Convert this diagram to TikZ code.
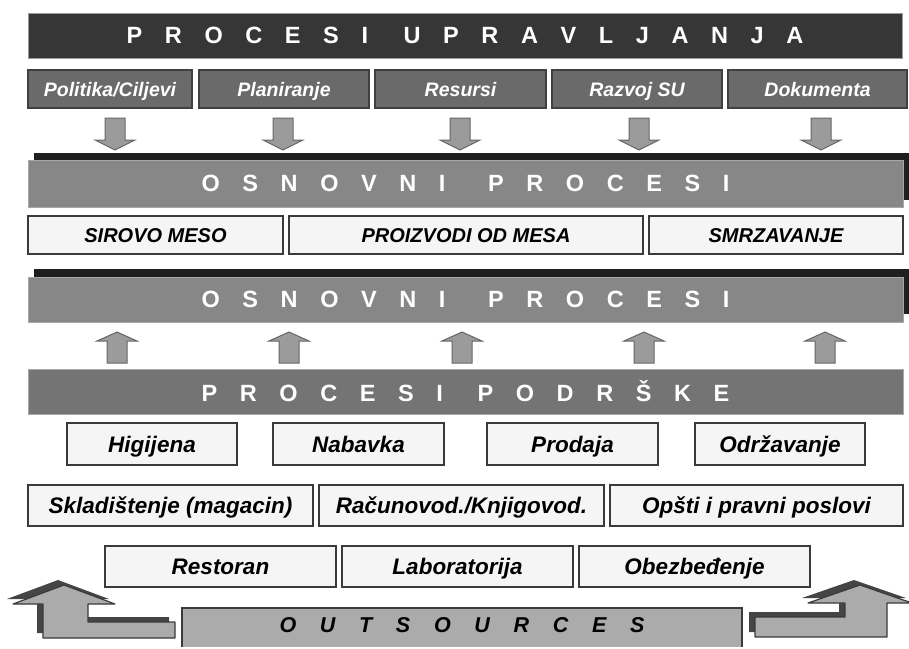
\documentclass[tikz,border=0pt]{standalone}
\usepackage{fontspec}
\setmainfont{Liberation Sans}
\usetikzlibrary{positioning, shadows}

\definecolor{bannerdark}{HTML}{363636}
\definecolor{banneredge}{HTML}{9A9A9A}
\definecolor{mgmtgray}{HTML}{6A6A6A}
\definecolor{mgmtedge}{HTML}{404040}
\definecolor{osngray}{HTML}{878787}
\definecolor{podrgray}{HTML}{747474}
\definecolor{bandedge}{HTML}{A8A8A8}
\definecolor{shadowblack}{HTML}{1F1F1F}
\definecolor{boxwhite}{HTML}{F5F5F5}
\definecolor{boxedge}{HTML}{3A3A3A}
\definecolor{arrowgray}{HTML}{9B9B9B}
\definecolor{arrowedge}{HTML}{666666}
\definecolor{outgray}{HTML}{ABABAB}
\definecolor{bentshadow}{HTML}{454545}

\newcommand{\bandfont}{\fontsize{23.5}{28}\selectfont\bfseries\spaceskip=22.6pt\relax}
\newcommand{\outfont}{\fontsize{21.5}{26}\selectfont\bfseries\itshape\spaceskip=23.7pt\relax}

\tikzset{
  band/.style={rectangle, outer sep=0pt, draw=bandedge, line width=0.8pt,
    minimum width=875pt, minimum height=45pt, text=white, font=\bandfont},
  osnband/.style={band, fill=osngray,
    general shadow={fill=shadowblack, shadow xshift=6pt, shadow yshift=#1}},
  mgmt/.style={rectangle, outer sep=0pt, fill=mgmtgray, draw=mgmtedge, line width=1.5pt,
    minimum height=38pt, text height=18pt, text depth=4pt, text=white,
    font=\fontsize{19.5}{23}\selectfont\bfseries\itshape},
  wbox/.style={rectangle, outer sep=0pt, fill=boxwhite, draw=boxedge, line width=2pt,
    minimum height=38pt, text height=18pt, text depth=3.7pt, text=black,
    font=\fontsize{20}{24}\selectfont\bfseries\itshape},
  lbox/.style={wbox, minimum height=41pt, text height=20pt, text depth=3.9pt,
    font=\fontsize{22.5}{27}\selectfont\bfseries\itshape},
  blockarrow/.style={fill=arrowgray, draw=arrowedge, line width=1pt},
  bentarrow/.style={fill=outgray, draw=boxedge, line width=1.2pt, line join=round},
  bentback/.style={fill=bentshadow}
}

\begin{document}
\begin{tikzpicture}[x=1pt, y=-1pt, node distance=6pt]
    \useasboundingbox (0,0) rectangle (909,648);
    \clip (0,0) rectangle (909,646.5);

    % procesi upravljanja
    \node[band, fill=bannerdark, draw=banneredge, minimum width=874pt] (upr) at (465,35.5)
        {P R O C E S I \hspace{13pt}U P R A V L J A N J A};
    \node[mgmt, minimum width=164pt] (pol)  at (110,89)        {Politika/Ciljevi};
    \node[mgmt, minimum width=170pt] (plan) [right=7pt of pol] {Planiranje};
    \node[mgmt, minimum width=171pt] (res)  [right=of plan]    {Resursi};
    \node[mgmt, minimum width=170pt] (razv) [right=of res]     {Razvoj SU};
    \node[mgmt, minimum width=179pt] (dok)  [right=of razv]    {Dokumenta};

    \foreach \x in {115,283,460,639,821}
        \draw[blockarrow] (\x-10,118) -- (\x+10,118) -- (\x+10,140) -- (\x+20,140)
            -- (\x,150) -- (\x-20,140) -- (\x-10,140) -- cycle;

    % osnovni procesi
    \node[osnband=7pt, minimum height=47pt] (osn_1) at (465.5,183.5)
        {O S N O V N I \hspace{20pt}P R O C E S I};
    \node[wbox, minimum width=255pt] (sir) at (155.5,235)     {SIROVO MESO};
    \node[wbox, minimum width=354pt] (pro) [right=of sir]     {PROIZVODI OD MESA};
    \node[wbox, minimum width=254pt] (smr) [right=of pro]     {SMRZAVANJE};
    \node[osnband=8pt] (osn_2) at (465.5,299.5)
        {O S N O V N I \hspace{20pt}P R O C E S I};

    \foreach \x in {117,289,462,644,825}
        \draw[blockarrow] (\x-10,363) -- (\x-10,341) -- (\x-20,341) -- (\x,332)
            -- (\x+20,341) -- (\x+10,341) -- (\x+10,363) -- cycle;

    % procesi podrske
    \node[band, fill=podrgray] (podr) at (465.5,391.5)
        {P R O C E S I \hspace{12pt}P O D R Š K E};
    \node[lbox, minimum height=42pt, minimum width=170pt] (hig)  at (152,444)      {Higijena};
    \node[lbox, minimum height=42pt, minimum width=171pt] (nab)  [right=36pt of hig]  {Nabavka};
    \node[lbox, minimum height=42pt, minimum width=171pt] (prod) [right=43pt of nab]  {Prodaja};
    \node[lbox, minimum height=42pt, minimum width=170pt] (odr)  [right=37pt of prod] {Održavanje};

    \node[lbox, minimum width=285pt] (skl) at (170.5,505.5) {Skladištenje (magacin)};
    \node[lbox, minimum width=285pt] (rac) [right=of skl]   {Računovod./Knjigovod.};
    \node[lbox, minimum width=293pt] (ops) [right=of rac]   {Opšti i pravni poslovi};

    \node[lbox, minimum width=231pt] (rest) at (220.5,566.5) {Restoran};
    \node[lbox, minimum width=231pt] (lab)  [right=of rest]  {Laboratorija};
    \node[lbox, minimum width=231pt] (obez) [right=of lab]   {Obezbeđenje};

    % outsources
    \node[rectangle, outer sep=0pt, fill=outgray, draw=boxedge, line width=2pt,
        minimum width=560pt, minimum height=40pt, text depth=6pt, font=\outfont] (outs)
        at (462,628) {O U T S O U R C E S};

    \fill[bentback, xshift=-6pt, yshift=5pt] (64,585) -- (115,604) -- (88,604) -- (88,622)
        -- (175,622) -- (175,638) -- (43,638) -- (43,604) -- (13,604) -- cycle;
    \draw[bentarrow] (64,585) -- (115,604) -- (88,604) -- (88,622)
        -- (175,622) -- (175,638) -- (43,638) -- (43,604) -- (13,604) -- cycle;
    \fill[bentback, xshift=-6pt, yshift=5pt] (860,585) -- (912,603) -- (887,603) -- (887,637)
        -- (755,637) -- (755,617) -- (845,617) -- (845,603) -- (808,603) -- cycle;
    \draw[bentarrow] (860,585) -- (912,603) -- (887,603) -- (887,637)
        -- (755,637) -- (755,617) -- (845,617) -- (845,603) -- (808,603) -- cycle;
\end{tikzpicture}
\end{document}
